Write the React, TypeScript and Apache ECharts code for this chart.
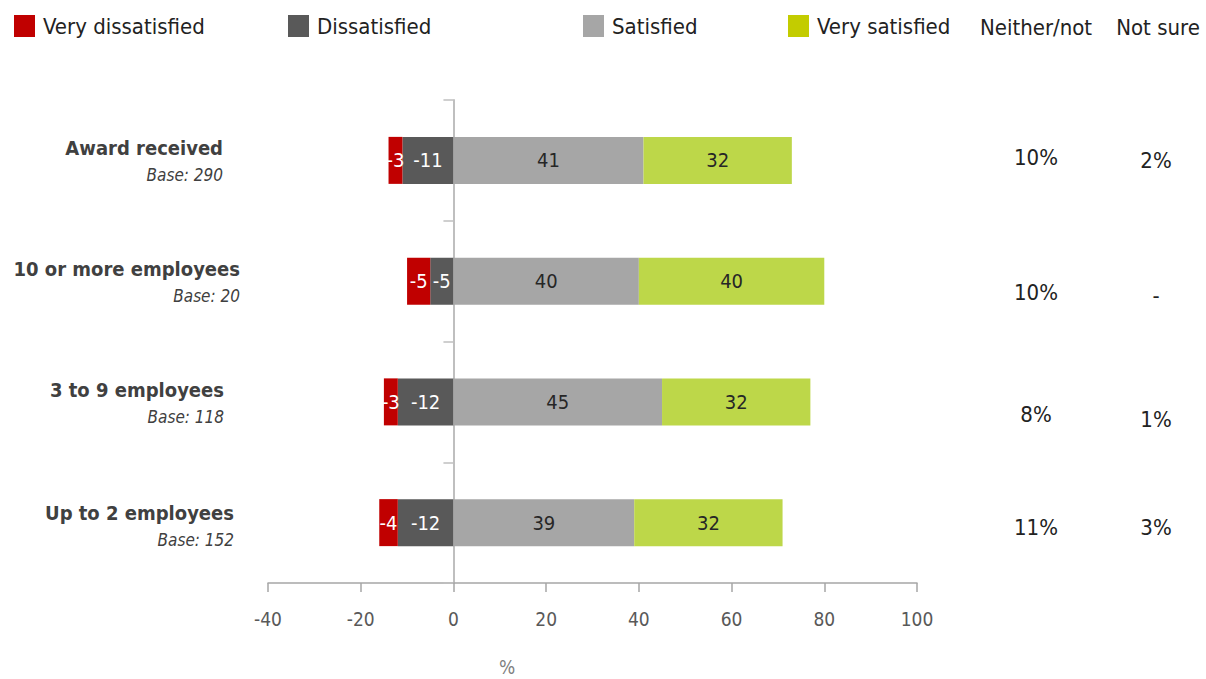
import React, { useEffect, useRef } from "react";
import * as echarts from "echarts";

const categories = ["Award received", "10 or more employees", "3 to 9 employees", "Up to 2 employees"];
const bases = ["290", "20", "118", "152"];
const veryDissatisfied = [-3, -5, -3, -4];
const dissatisfied = [-11, -5, -12, -12];
const satisfied = [41, 40, 45, 39];
const verySatisfied = [32, 40, 32, 32];
const neither = ["10%", "10%", "8%", "11%"];
const notSure = ["2%", "-", "1%", "3%"];
const xTicks = { min: -40, max: 100, interval: 20 };

// label nudges (style only): left label right-edge inset, left label vertical shift, right column vertical shifts
const leftInset = [17, 0, 16, 6];
const leftDown = [0, 0, 1, 5];
const neitherDown = [-3, 11, 13, 5];
const notSureDown = [0, 14, 18, 5];

const FONT = "'Liberation Sans Narrow', 'Arial Narrow', 'DejaVu Sans Condensed', sans-serif";
const C_RED = "#c00000";
const C_DARK = "#595959";
const C_GRAY = "#a6a6a6";
const C_GREEN = "#bdd749";
const C_GREEN_LEG = "#c3cc00";

export default function App() {
  const ref = useRef<HTMLDivElement>(null);
  useEffect(() => {
    document.body.style.margin = "0";
    const chart = echarts.init(ref.current!, null, { renderer: "svg" });
    const legendBase = {
      top: 10,
      itemWidth: 21,
      itemHeight: 22,
      icon: "rect",
      textStyle: { fontFamily: FONT, fontSize: 22, color: "#222", padding: [0, 0, 0, 3] },
    };
    const barLabel = (color: string) => ({
      show: true,
      position: "inside",
      fontFamily: FONT,
      fontSize: 20,
      color,
    });

    const leftRich: any = {};
    const rightRich: any = {};
    categories.forEach((_c, i) => {
      const pad = (d: number) => (d >= 0 ? [2 * d, 0, 0, 0] : [0, 0, -2 * d, 0]);
      leftRich["n" + i] = {
        fontFamily: FONT, fontSize: 20, fontWeight: "bold", color: "#404040", lineHeight: 30, align: "right",
        padding: [leftDown[i], leftInset[i], 0, 0],
      };
      leftRich["b" + i] = {
        fontFamily: FONT, fontSize: 17, fontStyle: "italic", color: "#404040", lineHeight: 24, align: "right",
        padding: [leftDown[i], leftInset[i], 0, 0],
      };
      rightRich["a" + i] = {
        fontFamily: FONT, fontSize: 22, color: "#222", width: 120, align: "center", padding: pad(neitherDown[i]),
      };
      rightRich["c" + i] = {
        fontFamily: FONT, fontSize: 22, color: "#222", width: 120, align: "center", padding: pad(notSureDown[i]),
      };
    });

    const option: any = {
      animation: false,
      legend: [
        { ...legendBase, left: 9, data: [{ name: "Very dissatisfied", itemStyle: { color: C_RED } }] },
        { ...legendBase, left: 283, data: [{ name: "Dissatisfied", itemStyle: { color: C_DARK } }] },
        { ...legendBase, left: 578, data: [{ name: "Satisfied", itemStyle: { color: C_GRAY } }] },
        { ...legendBase, left: 783, data: [{ name: "Very satisfied", itemStyle: { color: C_GREEN_LEG } }] },
      ],
      graphic: [
        { type: "text", x: 1036, y: 27, style: { text: "Neither/not", font: `22px ${FONT}`, fill: "#222", textAlign: "center", textVerticalAlign: "middle" } },
        { type: "text", x: 1158, y: 27, style: { text: "Not sure", font: `22px ${FONT}`, fill: "#222", textAlign: "center", textVerticalAlign: "middle" } },
        { type: "text", x: 507, y: 667, style: { text: "%", font: `19px ${FONT}`, fill: "#7f7f7f", textAlign: "center", textVerticalAlign: "middle" } },
      ],
      grid: { left: 268, right: 289, top: 100, bottom: 96, outerBoundsMode: "none", containLabel: false },
      xAxis: {
        type: "value",
        min: xTicks.min,
        max: xTicks.max,
        interval: xTicks.interval,
        splitLine: { show: false },
        axisLine: { show: true, lineStyle: { color: "#a6a6a6", width: 1.5 } },
        axisTick: { show: true, length: 9, lineStyle: { color: "#a6a6a6", width: 1.5 } },
        axisLabel: { fontFamily: FONT, fontSize: 19, color: "#595959", margin: 26 },
      },
      yAxis: [
        {
          type: "category",
          data: categories,
          inverse: true,
          position: "left",
          axisLine: { show: true, onZero: true, lineStyle: { color: "#bfbfbf", width: 2 } },
          axisTick: { show: true, length: 10, lineStyle: { color: "#bfbfbf", width: 1.5 } },
          axisLabel: { show: false },
        },
        {
          type: "category",
          data: categories,
          inverse: true,
          position: "left",
          axisLine: { show: false, onZero: false },
          axisTick: { show: false },
          axisLabel: {
            margin: 28,
            align: "right",
            formatter: (v: string, i: number) => `{n${i}|${v}}\n{b${i}|Base: ${bases[i]}}`,
            rich: leftRich,
          },
        },
        {
          type: "category",
          data: categories,
          inverse: true,
          position: "right",
          axisLine: { show: false, onZero: false },
          axisTick: { show: false },
          axisLabel: {
            margin: 59,
            align: "left",
            formatter: (_v: string, i: number) => `{a${i}|${neither[i]}}{c${i}|${notSure[i]}}`,
            rich: rightRich,
          },
        },
      ],
      series: [
        {
          name: "Dissatisfied",
          type: "bar",
          stack: "total",
          barWidth: 47,
          data: dissatisfied,
          itemStyle: { color: C_DARK },
          label: barLabel("#ffffff"),
        },
        {
          name: "Very dissatisfied",
          type: "bar",
          stack: "total",
          barWidth: 47,
          data: veryDissatisfied,
          itemStyle: { color: C_RED },
          label: barLabel("#ffffff"),
        },
        {
          name: "Satisfied",
          type: "bar",
          stack: "total",
          barWidth: 47,
          data: satisfied,
          itemStyle: { color: C_GRAY },
          label: barLabel("#262626"),
        },
        {
          name: "Very satisfied",
          type: "bar",
          stack: "total",
          barWidth: 47,
          data: verySatisfied,
          itemStyle: { color: C_GREEN },
          label: barLabel("#262626"),
        },
      ],
    };
    chart.setOption(option);
    return () => chart.dispose();
  }, []);
  return <div ref={ref} style={{ width: 1206, height: 679 }} />;
}
